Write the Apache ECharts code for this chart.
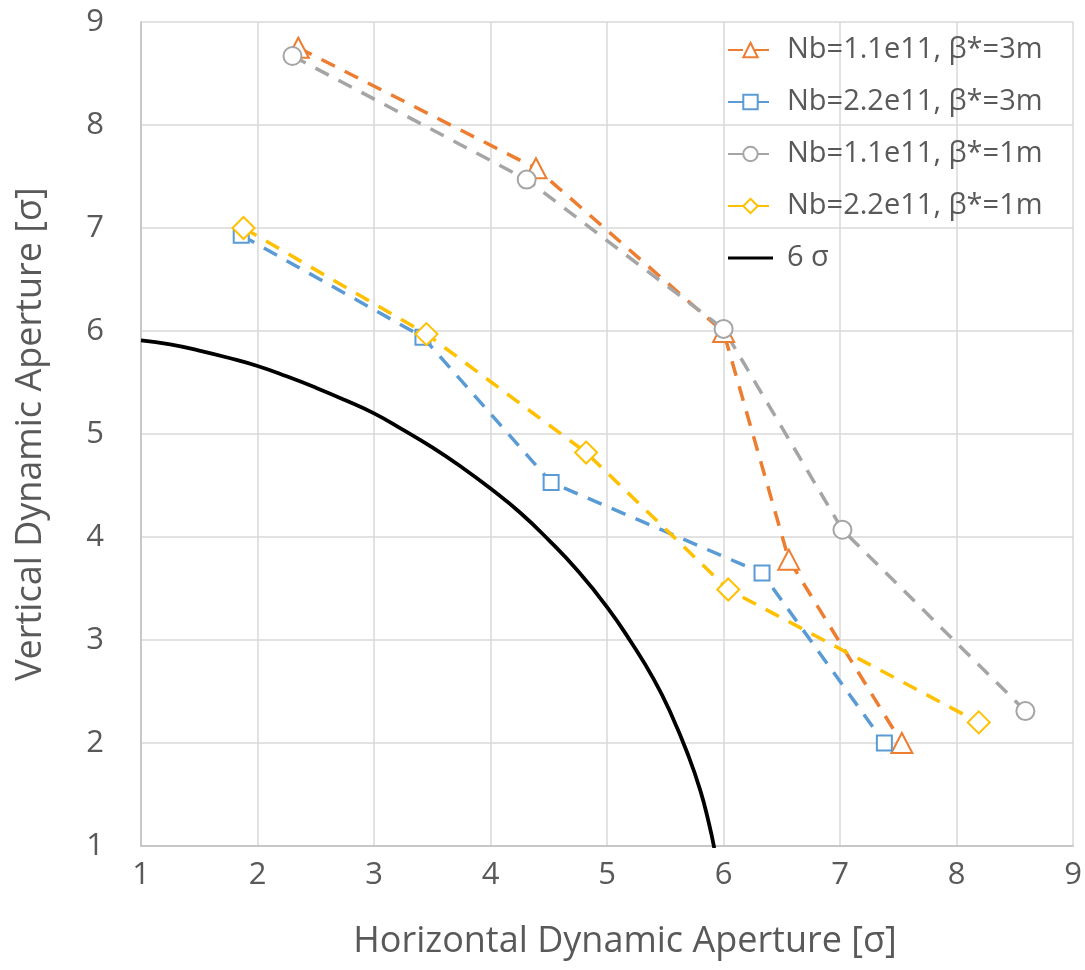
<!DOCTYPE html>
<html>
<head>
<meta charset="utf-8">
<script src="https://cdn.jsdelivr.net/npm/echarts@6/dist/echarts.min.js"></script>
<style>
html,body{margin:0;padding:0;background:#fff;}
#chart{width:1085px;height:970px;}
</style>
</head>
<body>
<div id="chart"></div>
<script>
// Data
const seriesNames = ['Nb=1.1e11, β*=3m', 'Nb=2.2e11, β*=3m', 'Nb=1.1e11, β*=1m', 'Nb=2.2e11, β*=1m', '6 σ'];

const orangeX = [2.35, 4.39, 6.0, 6.56, 7.53];
const orangeY = [8.75, 7.58, 5.99, 3.78, 2.0];

const blueX = [1.86, 3.42, 4.52, 6.33, 7.38];
const blueY = [6.93, 5.94, 4.53, 3.65, 2.0];

const grayX = [2.30, 4.31, 6.0, 7.02, 8.59];
const grayY = [8.67, 7.47, 6.02, 4.07, 2.31];

const yellowX = [1.88, 3.45, 4.82, 6.04, 8.19];
const yellowY = [7.0, 5.97, 4.82, 3.49, 2.2];

const sixSigmaX = [1.0, 1.25, 1.5, 1.75, 2.0, 2.25, 2.5, 2.75, 3.0, 3.25, 3.5, 3.75, 4.0, 4.25, 4.5, 4.75, 5.0, 5.2, 5.4, 5.55, 5.7, 5.8, 5.87, 5.92];
const sixSigmaY = [5.91, 5.87, 5.81, 5.74, 5.66, 5.56, 5.45, 5.33, 5.2, 5.04, 4.87, 4.68, 4.47, 4.24, 3.97, 3.67, 3.32, 2.99, 2.62, 2.28, 1.87, 1.54, 1.24, 0.98];

const axisTicks = [1, 2, 3, 4, 5, 6, 7, 8, 9];

const colors = ['#ED7D31', '#5B9BD5', '#A5A5A5', '#FFC000', '#000000'];
const FONT = 'Open Sans';
const textColor = '#595959';

function pairs(xs, ys) { return xs.map((x, i) => [x, ys[i]]); }

function dataSeries(name, xs, ys, color, symbol, size) {
  return {
    name: name,
    type: 'line',
    data: pairs(xs, ys),
    symbol: symbol,
    symbolSize: size,
    showAllSymbol: true,
    lineStyle: { color: color, width: 3.5, type: [15, 11], cap: 'butt' },
    itemStyle: { color: '#ffffff', borderColor: color, borderWidth: 2 },
    emphasis: { disabled: true },
    z: 3
  };
}

const chart = echarts.init(document.getElementById('chart'), null, { renderer: 'canvas' });

const lineIcon = 'path://M0,0 M45,18 M0,7.5 L45,7.5 L45,10.5 L0,10.5 Z';

const option = {
  animation: false,
  backgroundColor: '#ffffff',
  textStyle: { fontFamily: FONT },
  grid: { left: 141, right: 7, top: 22, bottom: 124, containLabel: false },
  legend: {
    orient: 'vertical',
    left: 727,
    top: 35,
    padding: 0,
    itemWidth: 45,
    itemHeight: 18,
    itemGap: 22,
    data: [
      { name: seriesNames[0] },
      { name: seriesNames[1] },
      { name: seriesNames[2] },
      { name: seriesNames[3] },
      { name: seriesNames[4], icon: lineIcon }
    ],
    textStyle: { fontFamily: FONT, fontSize: 29, color: textColor, lineHeight: 30, padding: [0, 0, 0, 9] }
  },
  xAxis: {
    type: 'value',
    min: axisTicks[0],
    max: axisTicks[axisTicks.length - 1],
    interval: 1,
    name: 'Horizontal Dynamic Aperture [σ]',
    nameLocation: 'middle',
    nameGap: 78,
    nameTextStyle: { fontFamily: FONT, fontSize: 36, color: textColor, padding: [0, 0, 0, 36] },
    axisLine: { show: true, lineStyle: { color: '#BFBFBF', width: 1.5 } },
    axisTick: { show: false },
    axisLabel: { fontFamily: FONT, fontSize: 31, color: textColor, margin: 14 },
    splitLine: { show: true, lineStyle: { color: '#D9D9D9', width: 1.5 } }
  },
  yAxis: {
    type: 'value',
    min: axisTicks[0],
    max: axisTicks[axisTicks.length - 1],
    interval: 1,
    name: 'Vertical Dynamic Aperture [σ]',
    nameLocation: 'middle',
    nameGap: 92,
    nameTextStyle: { fontFamily: FONT, fontSize: 36, color: textColor },
    axisLine: { show: true, lineStyle: { color: '#BFBFBF', width: 1.5 } },
    axisTick: { show: false },
    axisLabel: { fontFamily: FONT, fontSize: 31, color: textColor, margin: 37 },
    splitLine: { show: true, lineStyle: { color: '#D9D9D9', width: 1.5 } }
  },
  series: [
    dataSeries(seriesNames[0], orangeX, orangeY, colors[0], 'triangle', [21, 20]),
    dataSeries(seriesNames[1], blueX, blueY, colors[1], 'rect', 15),
    dataSeries(seriesNames[2], grayX, grayY, colors[2], 'circle', 18),
    dataSeries(seriesNames[3], yellowX, yellowY, colors[3], 'diamond', 22),
    {
      name: seriesNames[4],
      type: 'line',
      data: pairs(sixSigmaX, sixSigmaY),
      smooth: true,
      symbol: 'none',
      lineStyle: { color: colors[4], width: 3.8 },
      itemStyle: { color: colors[4] },
      emphasis: { disabled: true },
      z: 2
    }
  ]
};

chart.setOption(option);
</script>
</body>
</html>
